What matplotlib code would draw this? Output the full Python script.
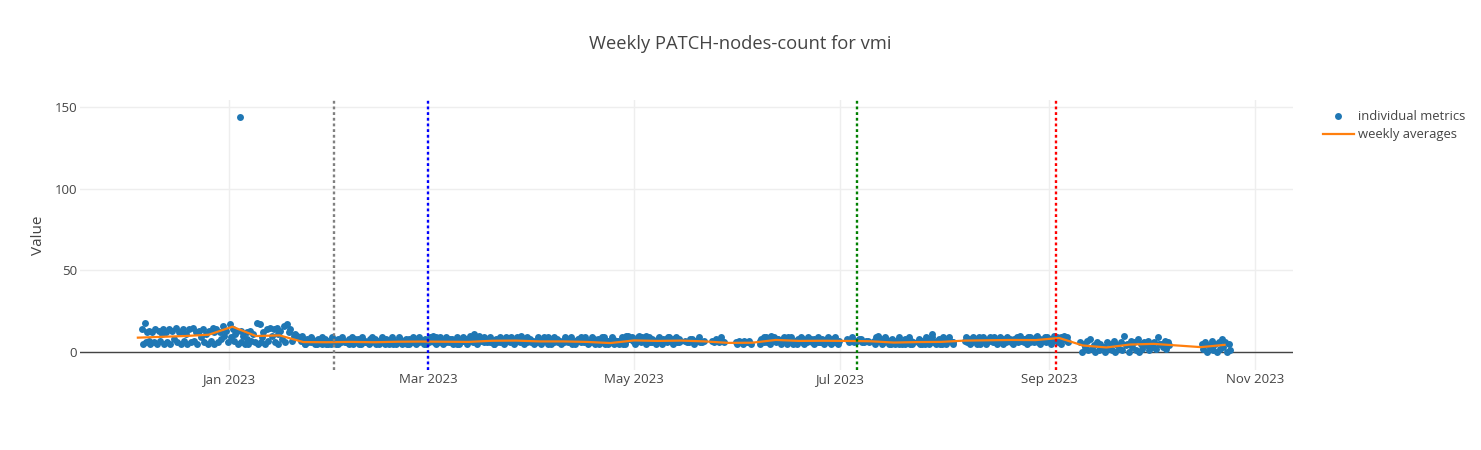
import matplotlib
matplotlib.use("Agg")
import matplotlib.pyplot as plt
import matplotlib.dates as mdates
import pandas as pd

# ---------------- data ----------------
title = "Weekly PATCH-nodes-count for vmi"

# Dec 6 2022 - Jan 21 2023 (one tuple per day)
early_start = "2022-12-06"
early_vals = [
    (14, 5), (18, 12, 6), (13, 5, 7), (12, 6), (14, 5), (13, 7), (11, 5, 14),
    (12, 6), (14, 5), (13, 8), (15, 6), (12, 5), (13, 7, 14), (11, 5),
    (14, 6), (15, 7), (12, 5), (13, 9), (14, 6), (11, 5), (13, 7),
    (15, 5, 12), (14, 6), (12, 8), (16, 10), (13, 6), (17, 9), (14, 11, 7),
    (12, 5), (144, 6, 13), (10, 5), (8, 5, 12), (13, 7), (11, 6), (18, 5),
    (17, 9, 6), (12, 5), (14, 7), (15, 10), (14, 6), (15, 11, 5), (13, 8),
    (16, 6), (17, 12), (14, 7), (10, 11), (10, 9),
]

# Jan 22 - May 14 2023
mid1_start = "2023-01-22"
mid1_a = [7, 6, 8, 6, 7, 5, 6, 6, 7, 5, 6, 8, 6, 7, 7, 6, 6, 8, 5, 7, 6,
          6, 8, 7, 6, 5, 7, 8, 7, 6, 5, 6, 8, 7, 6, 6, 7, 8, 6, 7, 9, 6,
          7, 6, 6, 8, 7, 5, 7, 8, 7, 6, 7, 10, 8, 7, 6, 7, 8, 6, 7, 9, 6,
          7, 8, 6, 7, 6, 8, 7, 6, 7, 9, 6, 7, 6, 8, 7, 6, 8, 7, 6, 7, 6,
          6, 7, 6, 8, 7, 6, 9, 7, 6, 5, 7, 6, 6, 10, 8, 7, 9, 6, 7, 8, 6,
          7, 8, 6, 7, 9, 6, 7, 6]
mid1_b = [10, 5, 7, 8, 6, 7, 5, 5, 6, 7, 5, 6, 7, 6, 8, 5, 7, 6, 7, 6, 8,
          7, 5, 6, 8, 7, 6, 5, 6, 8, 7, 5, 6, 6, 8, 7, 5, 6, 8, 6, 7, 8,
          6, 8, 7, 6, 5, 7, 8, 6, 8, 11, 9, 7, 6, 8, 7, 5, 7, 8, 6, 7, 8,
          6, 7, 9, 6, 8, 7, 6, 8, 6, 7, 5, 8, 7, 6, 6, 8, 7, 5, 7, 8, 7,
          7, 6, 8, 6, 5, 7, 7, 6, 8, 7, 6, 5, 10, 9, 7, 6, 8, 7, 10, 6, 7,
          6, 7, 8, 6, 7, 8, 6, 7]
mid1_c = [9, 5, 6, 9, 5, 8, 9, 8, 5, 9, 7, 5, 9, 6, 5, 9, 8, 5, 9, 6, 5,
          9, 6, 5, 9, 8, 5, 9, 5, 9, 6, 8, 5, 9, 5, 9, 6, 5, 9, 10, 5, 9,
          5, 9, 8, 5, 9, 6, 9, 5, 10, 9, 5, 8, 9, 6, 9, 5, 6, 9, 5, 8, 9,
          5, 9, 10, 5, 9, 6, 5, 9, 5, 8, 9, 5, 9, 6, 5, 9, 6, 9, 5, 8, 9,
          9, 5, 9, 5, 8, 9, 5, 5, 9, 6, 5, 9, 5, 8, 9, 5, 10, 9, 5, 9, 8,
          5, 9, 5, 8, 9, 5, 9, 8]

# later segments: (start, list a, list b, optional list c)
summer_segments = [
    ("2023-05-16", [7, 6, 8, 7, 9, 6], [6, 8, 5, 7, 6, 7]),
    ("2023-05-24", [7, 8, 6, 7], [6, 7, 9, 6]),
    ("2023-05-31", [6, 7, 5, 6, 7], [5, 6, 7, 6, 5]),
    ("2023-06-07", [7, 8, 9, 7, 8, 6, 7, 8, 6, 7, 5, 6, 7, 8, 6, 7, 8, 7, 6, 7, 8, 6, 7, 6],
                   [8, 6, 7, 10, 7, 8, 6, 7, 9, 6, 7, 8, 6, 7, 8, 6, 7, 6, 8, 7, 6, 8, 6, 7],
                   [5, 9, 6, 5, 9, 8, 5, 9, 5, 9, 6, 5, 9, 5, 9, 8, 5, 9, 6, 5, 9, 5, 9, 5]),
    ("2023-07-03", [8, 7, 6, 7, 8, 6, 7], [6, 9, 7, 8, 6, 7, 6]),
    ("2023-07-11", [7, 10, 8, 6, 7, 5, 6, 7, 6, 5, 6, 7], [9, 7, 6, 8, 5, 6, 7, 5, 6, 7, 5, 6],
                   [5, 9, 5, 9, 6, 8, 5, 9, 5, 8, 9, 5]),
    ("2023-07-24", [6, 7, 5, 6, 11, 6, 7, 5, 6, 7, 6], [5, 6, 7, 8, 6, 7, 5, 6, 8, 7, 5],
                   [8, 5, 9, 5, 9, 5, 8, 9, 5, 9, 6]),
    ("2023-08-07", [7, 8, 6, 7, 9, 7, 6, 8, 7, 6, 7, 8, 6, 7], [6, 7, 8, 5, 7, 8, 6, 7, 9, 7, 6, 7, 8, 6],
                   [9, 5, 9, 8, 5, 9, 5, 9, 6, 5, 9, 5, 9, 8]),
    ("2023-08-21", [7, 8, 9, 7, 8, 6, 7, 9, 8, 7, 6, 8, 7, 9, 8, 9, 7],
                   [8, 6, 7, 8, 9, 7, 8, 6, 7, 9, 8, 7, 8, 6, 9, 8, 6],
                   [5, 9, 10, 6, 5, 9, 6, 10, 5, 8, 9, 5, 10, 8, 5, 10, 9]),
    ("2023-09-10", [6, 5, 7, 8, 4, 6, 5, 3, 6, 5, 7, 4, 6, 10, 5, 7, 6, 8, 5, 6, 7, 4, 6, 9, 5, 7, 6],
                   [0, 3, 1, 2, 0, 1, 3, 0, 2, 1, 0, 2, 1, 4, 0, 3, 1, 0, 2, 4, 1, 3, 2, 5, 3, 2, 4]),
    ("2023-10-16", [5, 6, 4, 7, 5, 6, 8, 6, 5], [2, 0, 3, 1, 0, 2, 3, 0, 1]),
]

# weekly averages (Mondays)
week_dates = ["2022-12-05", "2022-12-12", "2022-12-19", "2022-12-26", "2023-01-02",
              "2023-01-09", "2023-01-16", "2023-01-23", "2023-01-30", "2023-02-06",
              "2023-02-13", "2023-02-20", "2023-02-27", "2023-03-06", "2023-03-13",
              "2023-03-20", "2023-03-27", "2023-04-03", "2023-04-10", "2023-04-17",
              "2023-04-24", "2023-05-01", "2023-05-08", "2023-05-15", "2023-05-22",
              "2023-05-29", "2023-06-05", "2023-06-12", "2023-06-19", "2023-06-26",
              "2023-07-03", "2023-07-10", "2023-07-17", "2023-07-24", "2023-07-31",
              "2023-08-07", "2023-08-14", "2023-08-21", "2023-08-28", "2023-09-04",
              "2023-09-11", "2023-09-18", "2023-09-25", "2023-10-02", "2023-10-16",
              "2023-10-23"]
week_avgs = [8.8, 9.3, 9.8, 10.6, 15.5, 9.8, 10.2, 6.1, 6.0, 6.2,
             6.0, 6.3, 6.4, 6.3, 6.2, 6.9, 7.0, 6.5, 6.5, 6.2,
             5.5, 7.1, 6.8, 7.0, 6.5, 5.6, 5.7, 7.4, 6.8, 6.9,
             6.8, 6.6, 5.8, 6.1, 6.2, 7.0, 7.2, 7.4, 7.3, 8.6,
             4.0, 2.8, 4.6, 5.0, 3.0, 4.4]

# event markers
event_dates = ["2023-02-01", "2023-03-01", "2023-07-06", "2023-09-03"]
event_colors = ["#808080", "#0000ff", "#008000", "#ff0000"]

# ---------------- build points ----------------
xs, ys = [], []
day_frac = [0.2, 0.65, 0.42]
d0 = pd.Timestamp(early_start)
for i, tup in enumerate(early_vals):
    for j, v in enumerate(tup):
        xs.append(d0 + pd.Timedelta(days=i + day_frac[j]))
        ys.append(v)


def add_seg(start, *lists):
    s = pd.Timestamp(start)
    for j, lst in enumerate(lists):
        for i, v in enumerate(lst):
            xs.append(s + pd.Timedelta(days=i + day_frac[j]))
            ys.append(v)


add_seg(mid1_start, mid1_a, mid1_b, mid1_c)
for seg in summer_segments:
    add_seg(*seg)

# ---------------- plot ----------------
plt.rcParams["font.family"] = ["Open Sans", "DejaVu Sans"]
W, H = 1481, 450
fig = plt.figure(figsize=(W / 100, H / 100), dpi=100)
L, R, T, B = 80, 1293, 100, 370
ax = fig.add_axes([L / W, 1 - B / H, (R - L) / W, (B - T) / H])

ax.scatter(xs, ys, s=25, color="#1f77b4", linewidths=0, zorder=3,
           label="individual metrics")
ax.plot(pd.to_datetime(week_dates), week_avgs, color="#ff7f0e", lw=1.6,
        zorder=4, label="weekly averages")

for d, c in zip(event_dates, event_colors):
    ax.axvline(pd.Timestamp(d), color=c, lw=1.7, linestyle=(0, (1.2, 1.2)), zorder=5)

jan1 = pd.Timestamp("2023-01-01")
ax.set_xlim(jan1 + pd.Timedelta(days=-44.15), jan1 + pd.Timedelta(days=315.26))
ax.set_ylim(-11.0, 154.3)

ax.set_yticks([0, 50, 100, 150])
ax.set_xticks(pd.to_datetime(["2023-01-01", "2023-03-01", "2023-05-01",
                              "2023-07-01", "2023-09-01", "2023-11-01"]))
ax.xaxis.set_major_formatter(mdates.DateFormatter("%b %Y"))

ax.grid(True, color="#eeeeee", lw=1, zorder=0)
ax.set_axisbelow(True)
ax.axhline(0, color="#444444", lw=1, zorder=2)
for sp in ax.spines.values():
    sp.set_visible(False)
ax.tick_params(axis="both", length=0, labelsize=9.5, colors="#444444")
ax.tick_params(axis="x", pad=2)
ax.tick_params(axis="y", pad=2)
for lbl in ax.get_xticklabels() + ax.get_yticklabels():
    lbl.set_color("#444444")

ax.set_ylabel("Value", fontsize=11, color="#444444", labelpad=6)
fig.text(0.5, 1 - 44 / H, title, ha="center", va="center", fontsize=13.2,
         color="#444444")

fig.legend(loc="upper left", bbox_to_anchor=(1316 / W, 1 - 103 / H),
           frameon=False, fontsize=9.4, borderpad=0, labelspacing=0.45,
           handlelength=2.4, handletextpad=0.3, labelcolor="#444444",
           scatterpoints=1)

fig.savefig("out.png", dpi=100)
